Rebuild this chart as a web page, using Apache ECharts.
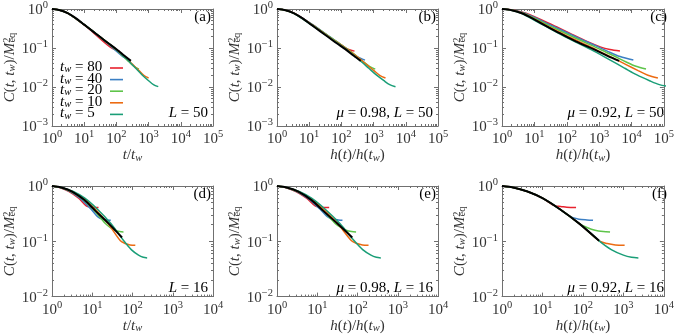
<!DOCTYPE html>
<html><head><meta charset="utf-8">
<script src="https://cdn.jsdelivr.net/npm/echarts@6/dist/echarts.min.js"></script>
<style>html,body{margin:0;padding:0;background:#fff}#c{width:677px;height:335px}</style>
</head><body><div id="c"></div>
<script>
// ---------- tick labels ----------
const xMajorTop = [1, 10, 100, 1000, 10000, 100000];
const yMajorTop = [0.001, 0.01, 0.1, 1];
const xMajorBottom = [1, 10, 100, 1000, 10000];
const yMajorBottom = [0.01, 0.1, 1];
const twLabels = ['80', '40', '20', '10', '5'];

// ---------- panel (a): t/tw, L=50 ----------
const Ablack = [[1,1],[1.778,0.933],[3.162,0.776],[5.623,0.575],[10,0.398],[17.78,0.275],[31.62,0.191],[56.23,0.132],[100,0.0933],[177.8,0.0631],[281.8,0.0468]];
const A80 = [[1,1],[1.778,0.933],[3.162,0.776],[10,0.389],[19.95,0.240],[39.81,0.145],[63.10,0.107],[89.13,0.0912],[125.9,0.0832]];
const A40 = [[1,1],[1.778,0.933],[3.162,0.776],[10,0.398],[31.62,0.186],[63.10,0.117],[100,0.0832],[158.5,0.0603],[251.2,0.0490]];
const A20 = [[1,1],[1.778,0.933],[3.162,0.776],[10,0.398],[31.62,0.191],[100,0.0891],[158.5,0.0631],[251.2,0.0437],[354.8,0.0339],[501.2,0.0288]];
const A10 = [[1,1],[1.778,0.933],[3.162,0.776],[10,0.398],[31.62,0.191],[100,0.0912],[199.5,0.0550],[316.2,0.0380],[501.2,0.0263],[707.9,0.0200],[1000,0.0170]];
const A5 = [[1,1],[1.778,0.933],[3.162,0.776],[10,0.398],[31.62,0.191],[100,0.0912],[199.5,0.0537],[398.1,0.0302],[631.0,0.0204],[1000,0.0145],[1413,0.0115],[1995,0.0102]];

// ---------- panel (b): mu=0.98, L=50 ----------
const Bblack = [[1,1],[1.841,0.933],[3.388,0.776],[6.237,0.575],[11.48,0.398],[21.13,0.275],[38.90,0.191],[71.61,0.132],[131.8,0.0933],[242.7,0.0631],[398.1,0.0468]];
const B80 = [[1,1],[1.879,0.933],[3.565,0.776],[13.09,0.389],[28.97,0.240],[65.01,0.145],[111.9,0.107],[169.0,0.0912],[255.3,0.0832]];
const B40 = [[1,1],[1.866,0.933],[3.508,0.776],[12.65,0.398],[46.88,0.186],[105.0,0.117],[179.5,0.0832],[310.5,0.0603],[539.5,0.0490]];
const B20 = [[1,1],[1.849,0.933],[3.443,0.776],[12.22,0.398],[44.46,0.191],[167.9,0.0891],[287.1,0.0631],[495.5,0.0437],[744.7,0.0339],[1125,0.0288]];
const B10 = [[1,1],[1.832,0.933],[3.388,0.776],[11.80,0.398],[42.27,0.191],[156.3,0.0912],[347.5,0.0550],[594.3,0.0380],[1023,0.0263],[1545,0.0200],[2339,0.0170]];
const B5 = [[1,1],[1.820,0.933],[3.327,0.776],[11.40,0.398],[40.09,0.191],[145.9,0.0912],[320.6,0.0537],[711.2,0.0302],[1216,0.0204],[2099,0.0145],[3162,0.0115],[4786,0.0102]];

// ---------- panel (c): mu=0.92, L=50 ----------
const Cblack = [[1,1],[1.991,0.933],[4.093,0.776],[8.710,0.575],[19.19,0.398],[43.85,0.275],[104.5,0.191],[258.8,0.132],[668.3,0.0933],[1807,0.0631],[4150,0.0468]];
const C80 = [[1,1],[2.307,0.933],[5.521,0.776],[36.31,0.389],[122.2,0.240],[440.6,0.145],[1079,0.107],[2158,0.0912],[4395,0.0832]];
const C40 = [[1,1],[2.203,0.933],[5.058,0.776],[29.92,0.398],[209.4,0.186],[741.3,0.117],[1782,0.0832],[4426,0.0603],[11400,0.0490]];
const C20 = [[1,1],[2.113,0.933],[4.624,0.776],[24.83,0.398],[156.7,0.191],[1178,0.0891],[2812,0.0631],[6887,0.0437],[13770,0.0339],[28050,0.0288]];
const C10 = [[1,1],[2.028,0.933],[4.266,0.776],[20.89,0.398],[119.4,0.191],[807.2,0.0912],[2773,0.0550],[6561,0.0380],[16030,0.0263],[32060,0.0200],[65310,0.0170]];
const C5 = [[1,1],[1.959,0.933],[3.945,0.776],[17.74,0.398],[92.47,0.191],[564.9,0.0912],[1816,0.0537],[6237,0.0302],[14690,0.0204],[36140,0.0145],[72280,0.0115],[146900,0.0102]];

// ---------- panel (d): t/tw, L=16 ----------
const Dblack = [[1,1],[1.778,0.933],[3.162,0.794],[6.310,0.562],[12.02,0.355],[25.70,0.209],[54.95,0.117]];
const D80 = [[1,1],[1.611,0.933],[2.667,0.794],[4.592,0.603],[7.112,0.437],[9.226,0.417],[12.08,0.407],[14.32,0.407]];
const D40 = [[1,1],[1.660,0.933],[2.825,0.794],[4.989,0.603],[9.397,0.380],[13.55,0.279],[18.11,0.251],[23.66,0.243],[28.84,0.240]];
const D20 = [[1,1],[1.706,0.933],[2.985,0.794],[5.433,0.603],[10.54,0.380],[21.23,0.209],[27.73,0.178],[36.48,0.158],[47.75,0.150],[59.70,0.148]];
const D10 = [[1,1],[1.754,0.933],[3.162,0.794],[5.943,0.603],[11.91,0.380],[24.72,0.209],[50.12,0.102],[66.07,0.0912],[86.70,0.0861],[117.5,0.0851]];
const D5 = [[1,1],[1.811,0.933],[3.373,0.794],[6.531,0.603],[13.52,0.380],[29.04,0.209],[60.67,0.102],[93.11,0.0708],[141.3,0.0562],[184.9,0.0513],[231.2,0.0501]];

// ---------- panel (e): mu=0.98, L=16 ----------
const Eblack = [[1,1],[1.820,0.933],[3.388,0.794],[7.079,0.562],[14.13,0.355],[31.62,0.209],[74.13,0.117]];
const E80 = [[1,1],[1.687,0.933],[2.949,0.794],[5.417,0.603],[8.882,0.437],[11.94,0.417],[16.26,0.407],[19.78,0.407]];
const E40 = [[1,1],[1.730,0.933],[3.095,0.794],[5.803,0.603],[11.79,0.380],[17.82,0.279],[24.80,0.251],[33.67,0.243],[42.25,0.240]];
const E20 = [[1,1],[1.769,0.933],[3.235,0.794],[6.219,0.603],[12.95,0.380],[28.37,0.209],[38.38,0.178],[52.42,0.158],[71.33,0.150],[92.22,0.148]];
const E10 = [[1,1],[1.807,0.933],[3.385,0.794],[6.685,0.603],[14.29,0.380],[32.09,0.209],[71.07,0.102],[97.25,0.0912],[132.6,0.0861],[188.0,0.0851]];
const E5 = [[1,1],[1.854,0.933],[3.563,0.794],[7.205,0.603],[15.81,0.380],[36.54,0.209],[83.02,0.102],[134.5,0.0708],[215.8,0.0562],[293.6,0.0513],[379.6,0.0501]];

// ---------- panel (f): mu=0.92, L=16 ----------
const Fblack = [[1,1],[1.995,0.933],[4.266,0.794],[10,0.603],[26.92,0.380],[81.28,0.209],[251.2,0.102]];
const F80 = [[1,1],[1.995,0.933],[4.266,0.794],[10,0.603],[20.42,0.437],[28.18,0.427],[39.81,0.412],[67.61,0.407]];
const F40 = [[1,1],[1.995,0.933],[4.266,0.794],[10,0.603],[26.92,0.380],[48.98,0.279],[79.43,0.251],[125.9,0.243],[177.8,0.240]];
const F20 = [[1,1],[1.995,0.933],[4.266,0.794],[10,0.603],[26.92,0.380],[81.28,0.209],[125.9,0.178],[199.5,0.158],[316.2,0.150],[467.7,0.148]];
const F10 = [[1,1],[1.995,0.933],[4.266,0.794],[10,0.603],[26.92,0.380],[81.28,0.209],[251.2,0.102],[398.1,0.0912],[631.0,0.0861],[1072,0.0851]];
const F5 = [[1,1],[1.995,0.933],[4.266,0.794],[10,0.603],[26.92,0.380],[81.28,0.209],[251.2,0.102],[501.2,0.0708],[1000,0.0562],[1585,0.0513],[2344,0.0501]];

// ---------- styling ----------
const FONT = '"Liberation Serif", "DejaVu Serif", serif';
const TXT = '#333333';
const AX = '#707070';
const COLORS = { '80': '#e8222e', '40': '#3b7fc4', '20': '#5ec44a', '10': '#ec6b12', '5': '#1a9e77' };

const RICH = {
  r:    { fontFamily: FONT, fontSize: 15, lineHeight: 16, color: TXT, verticalAlign: 'middle' },
  i:    { fontFamily: FONT, fontSize: 15, lineHeight: 16, color: TXT, fontStyle: 'italic', verticalAlign: 'middle' },
  sup:  { fontFamily: FONT, fontSize: 10.5, lineHeight: 6, color: TXT, verticalAlign: 'top' },
  sub:  { fontFamily: FONT, fontSize: 10.5, lineHeight: 6, color: TXT, verticalAlign: 'bottom' },
  subi: { fontFamily: FONT, fontSize: 10.5, lineHeight: 6, color: TXT, fontStyle: 'italic', verticalAlign: 'bottom' },
  eq:   { fontFamily: FONT, fontSize: 10.5, lineHeight: 6, color: TXT, verticalAlign: 'bottom', padding: [0, 0, 0, -5] }
};
const LABEL_RICH = {
  b: { fontFamily: FONT, fontSize: 15, lineHeight: 18, color: TXT, verticalAlign: 'bottom' },
  s: { fontFamily: FONT, fontSize: 10.5, lineHeight: 8, color: TXT, verticalAlign: 'top' }
};
function expLabel(v) {
  const e = Math.round(Math.log10(v));
  return '{b|10}{s|' + (e < 0 ? '\u2212' + (-e) : e) + '}';
}
function minorTicks(lo, hi) {
  const out = [];
  for (let e = lo; e < hi; e++) for (let m = 2; m <= 9; m++) out.push(+(m * Math.pow(10, e)).toPrecision(3));
  return out;
}

const yName = '{i|C}{r|(}{i|t}{r|, }{i|t}{subi|w}{r|)/}{i|M}{sup|2}{eq|eq}';
const tName = '{i|t}{r|/}{i|t}{subi|w}';
const hName = '{i|h}{r|(}{i|t}{r|)/}{i|h}{r|(}{i|t}{subi|w}{r|)}';

const panels = [
  { grid: { left: 52, top: 9, width: 161, height: 117 }, top: true, xName: tName, tag: '(a)', note: '{i|L}{r| = 50}', data: [A80, A40, A20, A10, A5], black: Ablack },
  { grid: { left: 277, top: 9, width: 161, height: 117 }, top: true, xName: hName, tag: '(b)', note: '{i|\u03bc}{r| = 0.98, }{i|L}{r| = 50}', data: [B80, B40, B20, B10, B5], black: Bblack },
  { grid: { left: 502, top: 9, width: 167, height: 117 }, top: true, xName: hName, tag: '(c)', note: '{i|\u03bc}{r| = 0.92, }{i|L}{r| = 50}', data: [C80, C40, C20, C10, C5], black: Cblack },
  { grid: { left: 52, top: 186, width: 161, height: 115 }, top: false, xName: tName, tag: '(d)', note: '{i|L}{r| = 16}', data: [D80, D40, D20, D10, D5], black: Dblack },
  { grid: { left: 277, top: 186, width: 161, height: 115 }, top: false, xName: hName, tag: '(e)', note: '{i|\u03bc}{r| = 0.98, }{i|L}{r| = 16}', data: [E80, E40, E20, E10, E5], black: Eblack },
  { grid: { left: 502, top: 186, width: 167, height: 115 }, top: false, xName: hName, tag: '(f)', note: '{i|\u03bc}{r| = 0.92, }{i|L}{r| = 16}', data: [F80, F40, F20, F10, F5], black: Fblack }
];

const grids = [], xAxes = [], yAxes = [], series = [], graphics = [];
panels.forEach((p, gi) => {
  grids.push(Object.assign({ containLabel: false }, p.grid));
  const xMaj = p.top ? xMajorTop : xMajorBottom;
  const yMaj = p.top ? yMajorTop : yMajorBottom;
  const xMin = minorTicks(0, p.top ? 5 : 4);
  const yMin = minorTicks(p.top ? -3 : -2, 0);
  const xc = { gridIndex: gi, type: 'log', logBase: 10, min: 1, max: xMaj[xMaj.length - 1], splitLine: { show: false }, silent: true,
               axisLine: { show: true, onZero: false, lineStyle: { color: AX, width: 1 } } };
  const yc = { gridIndex: gi, type: 'log', logBase: 10, min: yMaj[0], max: 1, splitLine: { show: false }, silent: true,
               axisLine: { show: true, onZero: false, lineStyle: { color: AX, width: 1 } } };
  const maj = (vals) => ({ show: true, inside: true, length: 4, customValues: vals, lineStyle: { color: AX, width: 1 } });
  const mnr = (vals) => ({ show: true, inside: true, length: 2, customValues: vals, lineStyle: { color: AX, width: 1 } });
  xAxes.push(Object.assign({}, xc, { position: 'bottom', axisTick: maj(xMaj),
    axisLabel: { show: true, customValues: xMaj, formatter: expLabel, margin: 3, rich: LABEL_RICH },
    name: p.xName, nameLocation: 'middle', nameGap: 15, nameTextStyle: { rich: RICH, verticalAlign: 'top' } }));
  xAxes.push(Object.assign({}, xc, { position: 'bottom', axisLine: { show: false }, axisTick: mnr(xMin), axisLabel: { show: false } }));
  xAxes.push(Object.assign({}, xc, { position: 'top', axisTick: maj(xMaj), axisLabel: { show: false } }));
  xAxes.push(Object.assign({}, xc, { position: 'top', axisLine: { show: false }, axisTick: mnr(xMin), axisLabel: { show: false } }));
  yAxes.push(Object.assign({}, yc, { position: 'left', axisTick: maj(yMaj),
    axisLabel: { show: true, customValues: yMaj, formatter: expLabel, margin: 4, rich: LABEL_RICH },
    name: yName, nameLocation: 'middle', nameGap: 33, nameTextStyle: { rich: RICH } }));
  yAxes.push(Object.assign({}, yc, { position: 'left', axisLine: { show: false }, axisTick: mnr(yMin), axisLabel: { show: false } }));
  yAxes.push(Object.assign({}, yc, { position: 'right', axisTick: maj(yMaj), axisLabel: { show: false } }));
  yAxes.push(Object.assign({}, yc, { position: 'right', axisLine: { show: false }, axisTick: mnr(yMin), axisLabel: { show: false } }));

  p.data.forEach((d, k) => {
    const name = twLabels[k];
    series.push({ type: 'line', name: name, xAxisIndex: gi * 4, yAxisIndex: gi * 4, data: d, showSymbol: false,
      smooth: 0.3, clip: true, silent: true, z: 2,
      lineStyle: { width: 1.5, color: COLORS[name] }, itemStyle: { color: COLORS[name] } });
  });
  series.push({ type: 'line', name: 'master', xAxisIndex: gi * 4, yAxisIndex: gi * 4, data: p.black, showSymbol: false,
    smooth: 0.3, clip: true, silent: true, z: 3,
    lineStyle: { width: 2, color: '#000' }, itemStyle: { color: '#000' } });

  const g = p.grid;
  graphics.push({ type: 'text', x: g.left + g.width - 2, y: g.top + 8, silent: true,
    style: { text: '{r|' + p.tag + '}', rich: RICH, align: 'right', verticalAlign: 'middle' } });
  graphics.push({ type: 'text', x: g.left + g.width - 5, y: g.top + g.height - 13, silent: true,
    style: { text: p.note, rich: RICH, align: 'right', verticalAlign: 'middle' } });
});

// legend of panel (a): text on the left, colour swatch on the right
twLabels.forEach((n, k) => {
  const y = 67 + 11.6 * k;
  graphics.push({ type: 'text', x: 60, y: y, silent: true,
    style: { text: '{i|t}{subi|w}{r| = ' + n + '}', rich: RICH, align: 'left', verticalAlign: 'middle' } });
  graphics.push({ type: 'line', silent: true, shape: { x1: 110, y1: y + 1, x2: 123, y2: y + 1 },
    style: { stroke: COLORS[n], lineWidth: 1.6 } });
});

const chart = echarts.init(document.getElementById('c'), null, { renderer: 'canvas' });
chart.setOption({
  animation: false,
  backgroundColor: '#fff',
  grid: grids,
  xAxis: xAxes,
  yAxis: yAxes,
  series: series,
  graphic: graphics
});
</script>
</body></html>
